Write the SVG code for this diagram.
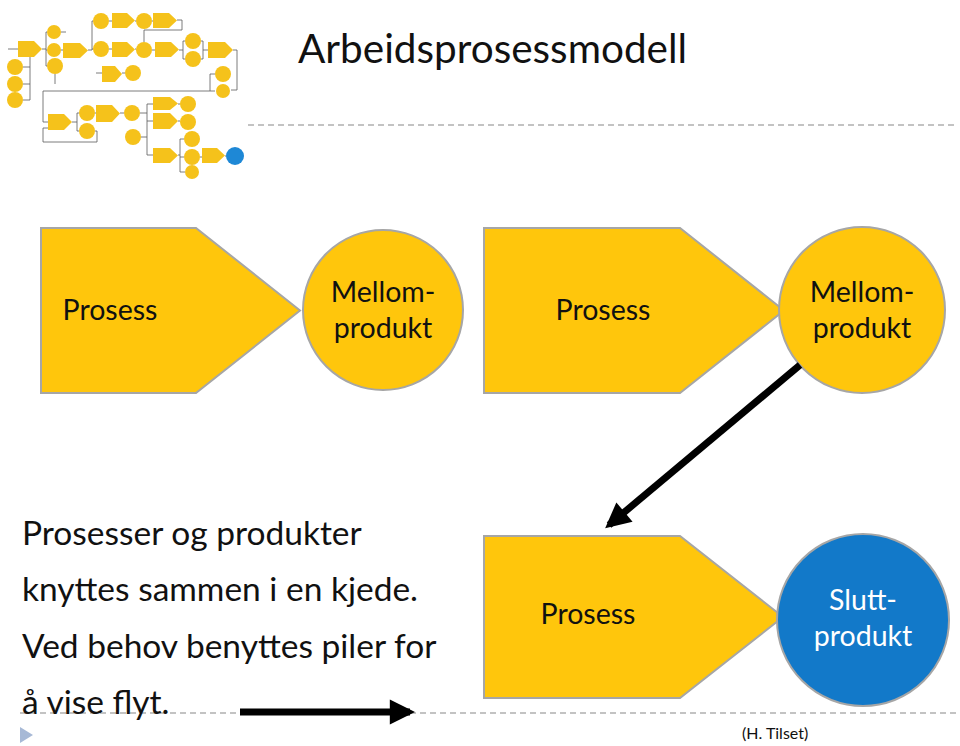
<svg xmlns="http://www.w3.org/2000/svg" width="960" height="746" viewBox="0 0 960 746">
<defs>
<style>
.bg{fill:#ffffff}
.pent{fill:#FFC60C;stroke:#A6A6A6;stroke-width:2}
.circ{fill:#FFC60C;stroke:#A6A6A6;stroke-width:2}
.blue{fill:#1279C9;stroke:#A6A6A6;stroke-width:2}
.lbl{font-family:Lato,"Open Sans","Liberation Sans",sans-serif;font-size:28.5px;fill:#111;text-anchor:middle}
.wlbl{font-family:Lato,"Open Sans","Liberation Sans",sans-serif;font-size:28.5px;fill:#ffffff;text-anchor:middle}
.title{font-family:Lato,"Open Sans","Liberation Sans",sans-serif;font-size:40.5px;fill:#111}
.body{font-family:Lato,"Open Sans","Liberation Sans",sans-serif;font-size:33.5px;fill:#111}
.credit{font-family:Lato,"Open Sans","Liberation Sans",sans-serif;font-size:16px;fill:#111}
.dash{stroke:#B0B0B0;stroke-width:1.5;stroke-dasharray:6 4;fill:none}
.conn{stroke:#000;stroke-width:7;fill:none}
.tp{fill:#F5C21B}
.tc{fill:#F5C21B}
.tb{fill:#1E88D6}
.tl{stroke:#5a5a5a;stroke-width:0.8;fill:none}
</style>
<marker id="ah" viewBox="0 0 10 10" refX="8" refY="5" markerWidth="4" markerHeight="3.6" orient="auto" markerUnits="strokeWidth">
<path d="M0,0 L10,5 L0,10 z" fill="#000"/>
</marker>
</defs>
<rect class="bg" x="0" y="0" width="960" height="746"/>

<!-- thumbnail flowchart -->
<g id="thumbnail">
<g class="tl">
<path d="M8,49 H18"/>
<path d="M42,49 H46 M46,32 V66 M46,32 H47 M46,50 H47 M46,66 H47"/>
<path d="M61,32 H66"/>
<path d="M61,50 H63"/>
<path d="M88,50 H92 M92,21 V50 M92,21 H93 M92,49 H93"/>
<path d="M109,21 H112 M135,21 H136 M152,21 H153"/>
<path d="M177,20 H182 V30 H144 V42"/>
<path d="M109,49 H112 M135,49 H136 M152,50 H155"/>
<path d="M179,50 H183 M183,41 V59 M183,41 H185 M183,59 H185"/>
<path d="M201,41 H203 M201,59 H203 M203,41 V59 M203,50 H208"/>
<path d="M233,50 H237 V90 H231"/>
<path d="M215,74 H210 V91 H215"/>
<path d="M210,91 H43 V122 H48"/>
<path d="M55,74 V84"/>
<path d="M23,67 H30 M23,84 H30 M23,100 H30 M30,57 V100"/>
<path d="M96,73 H102 M122,73 H125"/>
<path d="M72,122 H77 M77,113 V131 M77,113 H79 M77,131 H79"/>
<path d="M95,113 H96 M120,113 H124"/>
<path d="M95,131 H97 V142 H43 V128 H48"/>
<path d="M140,113 H147 M147,104 V155 M147,104 H153 M147,121 H153 M147,155 H153 M141,137 H147"/>
<path d="M178,104 H180 M178,121 H180"/>
<path d="M178,155 H180 M180,139 V172 M180,139 H184 M180,157 H184 M180,172 H185"/>
<path d="M200,157 H202 M225,156 H226"/>
</g>
<path class="tp" d="M18,41 H34 L42,49 L34,57 H18 Z"/>
<path class="tp" d="M63,43 H80 L88,50.5 L80,58 H63 Z"/>
<path class="tp" d="M112,13 H127 L135,20.5 L127,28 H112 Z"/>
<path class="tp" d="M153,13 H169 L177,20.5 L169,28 H153 Z"/>
<path class="tp" d="M112,42 H127 L135,49.5 L127,57 H112 Z"/>
<path class="tp" d="M155,42 H171 L179,49.5 L171,57 H155 Z"/>
<path class="tp" d="M208,42 H225 L233,50 L225,58 H208 Z"/>
<path class="tp" d="M102,66 H115 L122,74 L115,82 H102 Z"/>
<path class="tp" d="M48,114 H64 L72,122 L64,130 H48 Z"/>
<path class="tp" d="M96,105 H112 L120,113.5 L112,122 H96 Z"/>
<path class="tp" d="M153,97 H170 L178,103.5 L170,110 H153 Z"/>
<path class="tp" d="M153,113 H170 L178,121 L170,129 H153 Z"/>
<path class="tp" d="M153,148 H170 L178,155.5 L170,163 H153 Z"/>
<path class="tp" d="M202,148 H217 L225,155.5 L217,163 H202 Z"/>
<circle class="tc" cx="54" cy="32" r="7"/>
<circle class="tc" cx="54" cy="50" r="7"/>
<circle class="tc" cx="55" cy="66" r="8"/>
<circle class="tc" cx="101" cy="21" r="8"/>
<circle class="tc" cx="144" cy="21" r="8"/>
<circle class="tc" cx="101" cy="49" r="8"/>
<circle class="tc" cx="144" cy="50" r="8"/>
<circle class="tc" cx="193" cy="41" r="8"/>
<circle class="tc" cx="193" cy="59" r="8"/>
<circle class="tc" cx="223" cy="74" r="8"/>
<circle class="tc" cx="223" cy="91" r="7"/>
<circle class="tc" cx="15" cy="67" r="8"/>
<circle class="tc" cx="15" cy="84" r="8"/>
<circle class="tc" cx="15" cy="100" r="8"/>
<circle class="tc" cx="133" cy="73" r="8"/>
<circle class="tc" cx="87" cy="113" r="8"/>
<circle class="tc" cx="87" cy="131" r="8"/>
<circle class="tc" cx="132" cy="113" r="8"/>
<circle class="tc" cx="133" cy="137" r="8"/>
<circle class="tc" cx="188" cy="104" r="8"/>
<circle class="tc" cx="188" cy="122" r="8"/>
<circle class="tc" cx="192" cy="139" r="8"/>
<circle class="tc" cx="192" cy="157" r="8"/>
<circle class="tc" cx="192" cy="172" r="7"/>
<circle class="tb" cx="235" cy="156" r="9"/>
</g>

<text class="title" x="298" y="63">Arbeidsprosessmodell</text>
<path class="dash" d="M248,125 H958"/>
<path class="dash" d="M20,713 H958"/>
<path d="M20,727 L33,735 L20,743 Z" fill="#A7B9D6"/>

<g id="prosess1">
<path class="pent" d="M41,228 H196 L300,310.5 L196,393 H41 Z"/>
<text class="lbl" x="110" y="320">Prosess</text>
</g>
<g id="mellomprodukt1">
<circle class="circ" cx="383" cy="310" r="80"/>
<text class="lbl" x="383" y="302">Mellom-</text>
<text class="lbl" x="383" y="338">produkt</text>
</g>
<g id="prosess2">
<path class="pent" d="M484,228 H680 L784,310.5 L680,393 H484 Z"/>
<text class="lbl" x="603" y="320">Prosess</text>
</g>
<g id="mellomprodukt2">
<circle class="circ" cx="862" cy="310" r="83"/>
<text class="lbl" x="862" y="302">Mellom-</text>
<text class="lbl" x="862" y="338">produkt</text>
</g>
<g id="prosess3">
<path class="pent" d="M484,536 H680 L783,617 L680,698 H484 Z"/>
<text class="lbl" x="588" y="624">Prosess</text>
</g>
<g id="sluttprodukt">
<circle class="blue" cx="863" cy="620" r="86"/>
<text class="wlbl" x="863" y="610">Slutt-</text>
<text class="wlbl" x="863" y="646">produkt</text>
</g>

<g id="connectors">
<path class="conn" d="M800,365 L609,525" marker-end="url(#ah)"/>
<path class="conn" d="M240,712 L410,712" marker-end="url(#ah)"/>
</g>

<g id="bodytext">
<text class="body" x="22" y="545">Prosesser og produkter</text>
<text class="body" x="22" y="601">knyttes sammen i en kjede.</text>
<text class="body" x="22" y="658">Ved behov benyttes piler for</text>
<text class="body" x="22" y="714">å vise flyt.</text>
</g>
<text class="credit" x="742" y="739">(H. Tilset)</text>
</svg>
